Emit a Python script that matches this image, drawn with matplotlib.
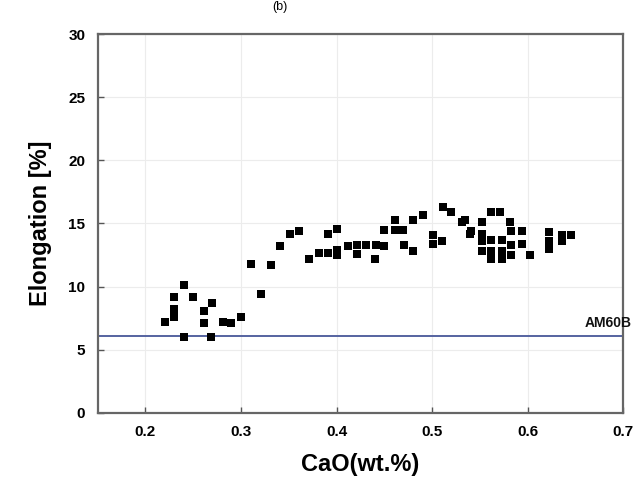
import matplotlib
matplotlib.use("Agg")
import matplotlib.pyplot as plt

# CaO content (wt.%) and measured elongation (%)
cao = [0.240, 0.230, 0.250, 0.230, 0.230, 0.220, 0.270, 0.261, 0.261,
       0.281, 0.289, 0.300, 0.240, 0.269,
       0.321, 0.310, 0.331, 0.341, 0.351, 0.361, 0.391, 0.401,
       0.371, 0.382, 0.391, 0.401, 0.401, 0.412, 0.421, 0.421,
       0.431, 0.441, 0.450, 0.440, 0.450, 0.461, 0.461, 0.470,
       0.480, 0.491, 0.471, 0.480, 0.501, 0.501, 0.510, 0.512,
       0.520, 0.531, 0.540,
       0.534, 0.541, 0.552, 0.552, 0.552, 0.562, 0.571, 0.582,
       0.583, 0.594, 0.552, 0.562, 0.562, 0.562, 0.573, 0.573,
       0.573, 0.583, 0.583, 0.603, 0.594,
       0.622, 0.622, 0.622, 0.636, 0.646, 0.636]
elong = [10.1, 9.2, 9.2, 8.2, 7.6, 7.2, 8.7, 8.1, 7.1,
         7.2, 7.1, 7.6, 6.0, 6.0,
         9.4, 11.8, 11.7, 13.2, 14.2, 14.4, 14.2, 14.6,
         12.2, 12.7, 12.7, 12.9, 12.5, 13.2, 13.3, 12.6,
         13.3, 13.3, 13.2, 12.2, 14.5, 15.3, 14.5, 14.5,
         15.3, 15.7, 13.3, 12.8, 14.1, 13.4, 13.6, 16.3,
         15.9, 15.1, 14.2,
         15.3, 14.4, 15.1, 14.2, 13.6, 15.9, 15.9, 15.1,
         14.4, 14.4, 12.8, 13.7, 12.8, 12.2, 13.7, 12.8,
         12.2, 13.3, 12.5, 12.5, 13.4,
         14.3, 13.6, 13.0, 14.1, 14.1, 13.6]

am60b = 6.1
xticks = [0.2, 0.3, 0.4, 0.5, 0.6, 0.7]
yticks = [0, 5, 10, 15, 20, 25, 30]

plt.rcParams["font.family"] = ["Liberation Sans", "DejaVu Sans"]

fig = plt.figure(figsize=(6.43, 4.95), dpi=100)
ax = fig.add_axes([0.152, 0.166, 0.817, 0.765])

ax.grid(True, color="#ececec", linewidth=0.8)
ax.set_axisbelow(True)

ax.axhline(am60b, color="#5563a0", linewidth=1.4, zorder=2)
ax.text(0.684, am60b + 0.5, "AM60B", fontsize=10, fontweight="bold",
        ha="center", va="bottom", color="#111111")

ax.scatter(cao, elong, marker="s", s=36, color="black", linewidths=0, zorder=3)

ax.set_xlim(0.15, 0.7)
ax.set_ylim(0, 30)
ax.set_xticks(xticks)
ax.set_yticks(yticks)
ax.tick_params(direction="in", length=4, width=1, color="#555555",
               labelsize=11, pad=9)
for lab in ax.get_xticklabels() + ax.get_yticklabels():
    lab.set_fontweight("bold")

for sp in ax.spines.values():
    sp.set_color("#666666")
    sp.set_linewidth(1.6)

ax.set_xlabel("CaO(wt.%)", fontsize=17, fontweight="bold", labelpad=10)
ax.set_ylabel("Elongation [%]", fontsize=17, fontweight="bold", labelpad=12)

fig.text(0.435, 0.998, "(b)", fontsize=9, ha="center", va="top")

fig.savefig("out.png", dpi=100)
